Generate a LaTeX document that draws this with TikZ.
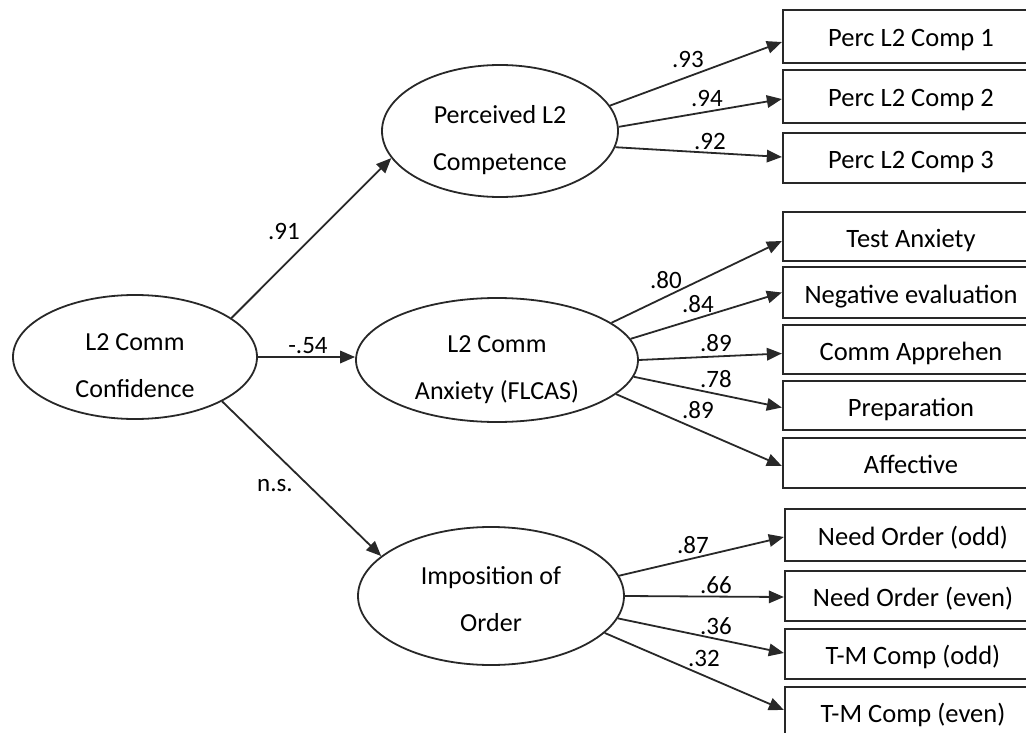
\documentclass[tikz,border=0pt]{standalone}
\usepackage{fontspec}
\setmainfont{Carlito}
\usetikzlibrary{arrows.meta,shapes.geometric}
\definecolor{ink}{RGB}{40,40,40}
\begin{document}
\begin{tikzpicture}[x=1pt,y=-1pt,
  latent/.style={ellipse, draw=ink, line width=1.8pt, inner sep=0pt},
  lattext/.style={align=center, inner sep=0pt, text=black, font=\fontsize{26}{47}\selectfont},
  indicator/.style={rectangle, draw=ink, line width=2.3pt, minimum width=256pt,
    minimum height=50pt, inner sep=0pt, text=black,
    font=\fontsize{26.5}{30}\selectfont, text height=21pt, text depth=0pt},
  link/.style={draw=ink, line width=1.8pt, -{Triangle[length=15pt,width=12.5pt]}},
  coef/.style={inner sep=0pt, text=black, font=\fontsize{25}{30}\selectfont}
]
\useasboundingbox (0,0) rectangle (1026,733);

% latent variables
\node[latent, minimum width=244pt, minimum height=124pt,
  label={[lattext, yshift=-9pt]center:{L2 Comm\\Confidence}}] (conf) at (135,357) {};
\node[latent, minimum width=236pt, minimum height=132pt,
  label={[lattext, yshift=-9pt]center:{Perceived L2\\Competence}}] (perc) at (500,131) {};
\node[latent, minimum width=282pt, minimum height=124pt,
  label={[lattext, yshift=-10pt]center:{L2 Comm\\Anxiety (FLCAS)}}] (anx) at (497,360) {};
\node[latent, minimum width=266pt, minimum height=138pt,
  label={[lattext, yshift=-3pt]center:{Imposition of\\Order}}] (imp) at (491,596) {};

% observed indicators (they run past the right edge)
\node[indicator, minimum height=53pt] (p1) at (911,36.5) {Perc L2 Comp 1};
\node[indicator, minimum height=53pt] (p2) at (911,96.5) {Perc L2 Comp 2};
\node[indicator] (p3) at (911,158) {Perc L2 Comp 3};
\node[indicator, minimum height=49pt] (a1) at (911,236.5) {Test Anxiety};
\node[indicator, minimum height=51pt] (a2) at (911,292.5) {Negative evaluation};
\node[indicator, minimum height=49pt] (a3) at (911,349.5) {Comm Apprehen};
\node[indicator, minimum height=49pt] (a4) at (911,405.5) {Preparation};
\node[indicator] (a5) at (911,463) {Affective};
\node[indicator, minimum height=52pt] (o1) at (913,535) {Need Order (odd)};
\node[indicator] (o2) at (913,596) {Need Order (even)};
\node[indicator] (o3) at (913,654) {T-M Comp (odd)};
\node[indicator] (o4) at (913,712) {T-M Comp (even)};

% structural paths
\draw[link] (conf.22.8) -- (perc.194.8);
\draw[link] (conf.east) -- (conf.east -| anx.west);
\draw[link] (conf.-27.9) -- (imp.160.3);
\node[coef] (c91) at (284,231) {.91};
\node[coef] (c54) at (308,346) {-.54};
\node[coef] (cns) at (275,486) {n.s.};

% loadings: perceived competence
\draw[link] (perc.13.3) -- ([yshift=-5.5pt]p1.west);
\draw[link] (perc.2) -- ([yshift=-2.5pt]p2.west);
\draw[link] (perc.-8.4) -- ([yshift=1pt]p3.west);
\node[coef] (l93) at (688,59) {.93};
\node[coef] (l94) at (707,98) {.94};
\node[coef] (l92) at (710,141) {.92};

% loadings: communication anxiety
\draw[link] (anx.18.3) -- ([yshift=-4.5pt]a1.west);
\draw[link] (anx.9.8) -- (a2.west);
\draw[link] (anx.0.8) -- ([yshift=-4pt]a3.west);
\draw[link] (anx.-7.1) -- ([yshift=-2pt]a4.west);
\draw[link] (anx.-16.5) -- ([yshift=-3pt]a5.west);
\node[coef] (l80) at (666,280) {.80};
\node[coef] (l84) at (698,304) {.84};
\node[coef] (l89a) at (716,343) {.89};
\node[coef] (l78) at (716,379) {.78};
\node[coef] (l89b) at (698,410) {.89};

% loadings: imposition of order
\draw[link] (imp.9.4) -- ([yshift=-2pt]o1.west);
\draw[link] (imp.0) -- ([yshift=-1pt]o2.west);
\draw[link] (imp.-10.7) -- ([yshift=1pt]o3.west);
\draw[link] (imp.-18.3) -- ([yshift=2pt]o4.west);
\node[coef] (l87) at (693,545) {.87};
\node[coef] (l66) at (716,585) {.66};
\node[coef] (l36) at (716,626) {.36};
\node[coef] (l32) at (704,658) {.32};
\end{tikzpicture}
\end{document}
